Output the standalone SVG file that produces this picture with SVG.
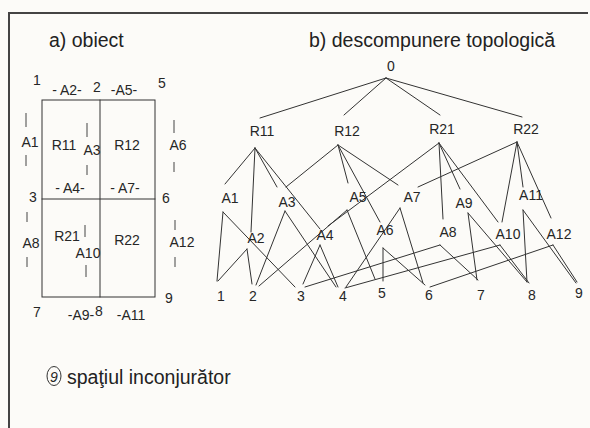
<svg xmlns="http://www.w3.org/2000/svg" width="590" height="428" viewBox="0 0 590 428">
  <style>
    .lbl { font-family: "Liberation Sans", Arial, sans-serif; font-size: 14px; fill: #262626; text-anchor: middle; }
    .title { font-family: "Liberation Sans", Arial, sans-serif; font-size: 19.5px; fill: #222; }
    .ln { stroke: #333; stroke-width: 1; fill: none; stroke-linecap: round; }
    .tick { stroke: #444; stroke-width: 1; }
    .frame { stroke: #444; stroke-width: 2; fill: none; }
  </style>
  <rect width="590" height="428" fill="#fcfbf8"/>
  <!-- outer frame -->
  <path class="frame" d="M9,428 V13 H588"/>

  <!-- titles -->
  <text class="title" x="49" y="47">a) obiect</text>
  <text class="title" x="309" y="47">b) descompunere topologică</text>

  <!-- a) object: regions, boundary arcs and points -->
  <g id="object">
    <rect class="ln" x="42" y="100" width="113" height="197"/>
    <line class="ln" x1="100" y1="100" x2="100" y2="297"/>
    <line class="ln" x1="42" y1="199" x2="155" y2="199"/>
    <g class="tick">
      <line x1="26" y1="113" x2="26" y2="127"/><line x1="26" y1="155" x2="26" y2="166"/>
      <line x1="87" y1="123" x2="87" y2="137"/><line x1="87" y1="165" x2="87" y2="175"/>
      <line x1="174" y1="120" x2="174" y2="133"/><line x1="174" y1="162" x2="174" y2="172"/>
      <line x1="85" y1="225" x2="85" y2="237"/>
      <line x1="27" y1="212" x2="27" y2="222"/><line x1="27" y1="257" x2="27" y2="267"/>
      <line x1="86" y1="265" x2="86" y2="277"/>
      <line x1="175" y1="220" x2="175" y2="230"/><line x1="175" y1="257" x2="175" y2="267"/>
    </g>
    <text class="lbl" x="37" y="85">1</text>
    <text class="lbl" x="67" y="95">- A2-</text>
    <text class="lbl" x="97" y="92">2</text>
    <text class="lbl" x="124" y="95">-A5-</text>
    <text class="lbl" x="162" y="88">5</text>
    <text class="lbl" x="30" y="147">A1</text>
    <text class="lbl" x="64" y="150">R11</text>
    <text class="lbl" x="92" y="155">A3</text>
    <text class="lbl" x="127" y="150">R12</text>
    <text class="lbl" x="178" y="150">A6</text>
    <text class="lbl" x="70" y="193">- A4-</text>
    <text class="lbl" x="125" y="193">- A7-</text>
    <text class="lbl" x="33" y="202">3</text>
    <text class="lbl" x="166" y="203">6</text>
    <text class="lbl" x="67" y="241">R21</text>
    <text class="lbl" x="31" y="248">A8</text>
    <text class="lbl" x="88" y="258">A10</text>
    <text class="lbl" x="127" y="245">R22</text>
    <text class="lbl" x="182" y="247">A12</text>
    <text class="lbl" x="169" y="303">9</text>
    <text class="lbl" x="37" y="317">7</text>
    <text class="lbl" x="81" y="320">-A9-</text>
    <text class="lbl" x="99" y="316">8</text>
    <text class="lbl" x="131" y="320">-A11</text>
  </g>

  <!-- b) topological decomposition: connectors -->
  <g id="connectors" class="ln">
    <!-- root to regions -->
    <path d="M386,78 L260,118 M386,78 L344,115 M386,78 L440,115 M386,78 L522,117"/>
    <!-- regions to arcs -->
    <path d="M255,148 L225,184 M255,148 L251,232 M255,148 L277,187 M255,148 L320,229"/>
    <path d="M338,145 L286,187 M338,145 L348,183 M338,145 L380,222 M338,145 L398,185"/>
    <path d="M439,143 L328,226 M439,143 L443,219 M439,143 L460,189 M439,143 L498,222"/>
    <path d="M517,142 L418,187 M517,142 L502,222 M517,142 L523,187 M517,142 L551,218"/>
    <!-- arcs to points -->
    <path d="M223,212 L217,281 M223,212 L295,287"/>
    <path d="M247,249 L218,281 M247,249 L252,284"/>
    <path d="M285,211 L256,285 M285,211 L336,287"/>
    <path d="M320,245 L303,284 M320,245 L338,287"/>
    <path d="M347,210 L259,286 M347,210 L375,279"/>
    <path d="M383,248 L383,281 M383,248 L425,285"/>
    <path d="M400,208 L346,287 M400,208 L423,283"/>
    <path d="M440,245 L305,287 M440,245 L478,280"/>
    <path d="M468,213 L477,280 M468,213 L527,282"/>
    <path d="M500,245 L345,288 M500,245 L529,283"/>
    <path d="M523,210 L527,282 M523,210 L576,283"/>
    <path d="M553,245 L430,287 M553,245 L577,282"/>
  </g>

  <!-- root -->
  <g id="n0"><text class="lbl" x="391" y="71">0</text></g>
  <!-- regions -->
  <g id="R11"><text class="lbl" x="262" y="136">R11</text></g>
  <g id="R12"><text class="lbl" x="347" y="136">R12</text></g>
  <g id="R21"><text class="lbl" x="442" y="134">R21</text></g>
  <g id="R22"><text class="lbl" x="526" y="134">R22</text></g>
  <!-- arcs -->
  <g id="A1"><text class="lbl" x="230" y="203">A1</text></g>
  <g id="A2"><text class="lbl" x="256" y="243">A2</text></g>
  <g id="A3"><text class="lbl" x="287" y="207">A3</text></g>
  <g id="A4"><text class="lbl" x="325" y="240">A4</text></g>
  <g id="A5"><text class="lbl" x="358" y="202">A5</text></g>
  <g id="A6"><text class="lbl" x="385" y="235">A6</text></g>
  <g id="A7"><text class="lbl" x="412" y="202">A7</text></g>
  <g id="A8"><text class="lbl" x="448" y="237">A8</text></g>
  <g id="A9"><text class="lbl" x="464" y="208">A9</text></g>
  <g id="A10"><text class="lbl" x="508" y="239">A10</text></g>
  <g id="A11"><text class="lbl" x="531" y="200">A11</text></g>
  <g id="A12"><text class="lbl" x="559" y="239">A12</text></g>
  <!-- points -->
  <g id="p1"><text class="lbl" x="221" y="301">1</text></g>
  <g id="p2"><text class="lbl" x="253" y="301">2</text></g>
  <g id="p3"><text class="lbl" x="301" y="301">3</text></g>
  <g id="p4"><text class="lbl" x="343" y="301">4</text></g>
  <g id="p5"><text class="lbl" x="382" y="298">5</text></g>
  <g id="p6"><text class="lbl" x="429" y="300">6</text></g>
  <g id="p7"><text class="lbl" x="481" y="300">7</text></g>
  <g id="p8"><text class="lbl" x="532" y="300">8</text></g>
  <g id="p9"><text class="lbl" x="579" y="298">9</text></g>

  <!-- legend -->
  <g id="legend">
    <ellipse cx="54" cy="376" rx="7" ry="9.5" fill="none" stroke="#333" stroke-width="1"/>
    <text class="lbl" x="54" y="381.5" font-style="italic" font-size="14.5">9</text>
    <text class="title" x="67" y="384" font-size="19.5">spaţiul inconjurător</text>
  </g>
</svg>
